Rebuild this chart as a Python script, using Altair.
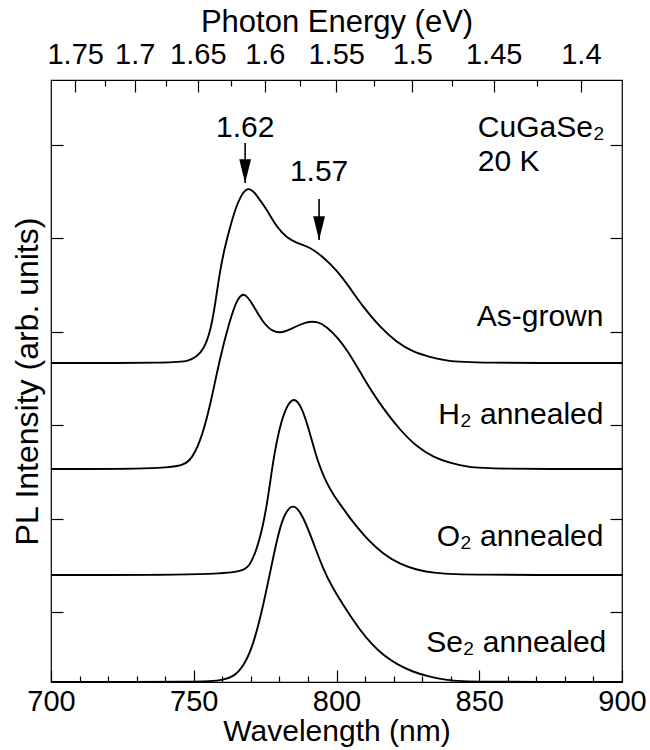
import altair as alt
import pandas as pd

# ---------------- data ----------------
SERIES = ["As-grown", "H2 annealed", "O2 annealed", "Se2 annealed"]
OFFSETS = [3.19, 2.13, 1.07, 0.0]

AS_WL = [700, 744, 748, 751, 753.5, 755.7, 757.5, 759.2, 761, 762.7, 765.5, 769, 772, 775.7,
         779, 782.7, 786, 790.7, 795.3, 800, 804, 809.3, 815.2, 821, 826.8, 832.7, 838.7, 847, 900]
AS_I = [0, 0, 0.02, 0.06, 0.14, 0.30, 0.58, 0.93, 1.17, 1.36, 1.63, 1.78, 1.68, 1.53,
        1.36, 1.25, 1.20, 1.16, 1.06, 0.93, 0.78, 0.56, 0.36, 0.21, 0.11, 0.06, 0.02, 0, 0]

H2_WL = [700, 744, 748.7, 752.2, 755.7, 759.2, 762.7, 765, 767.6, 770.8, 774.3, 777.8,
         780.9, 784.8, 789, 793.2, 796.7, 800.2, 804, 809.3, 812.5, 816, 822.2, 828.2,
         833.8, 839.8, 845.7, 854, 900]
H2_I = [0, 0, 0.07, 0.26, 0.62, 1.12, 1.49, 1.69, 1.78, 1.64, 1.46, 1.37,
        1.36, 1.41, 1.47, 1.48, 1.42, 1.32, 1.18, 0.92, 0.77, 0.62, 0.39, 0.22,
        0.12, 0.06, 0.02, 0, 0]

O2_WL = [700, 765, 769.7, 773.2, 775.7, 777.8, 780.2, 782.7, 785.1, 787.9, 790.7, 793.5,
         796.7, 799, 801.2, 804.7, 807.5, 810.7, 816.3, 822.2, 828.2, 834, 845, 900]
O2_I = [0, 0, 0.07, 0.35, 0.70, 1.15, 1.50, 1.70, 1.78, 1.68, 1.42, 1.12,
        0.91, 0.80, 0.71, 0.57, 0.47, 0.36, 0.21, 0.11, 0.05, 0.02, 0, 0]

SE_WL = [700, 755, 760, 763.8, 767.3, 770.8, 774.3, 776.7, 779.2, 781.3, 784.8, 788.3,
         791.8, 795.3, 798.8, 803.7, 808.2, 812, 816.3, 821, 826.8, 832.7, 838.7, 845, 900]
SE_I = [0, 0, 0.02, 0.05, 0.15, 0.36, 0.76, 1.09, 1.43, 1.66, 1.80, 1.66,
        1.40, 1.13, 0.93, 0.71, 0.52, 0.39, 0.27, 0.18, 0.10, 0.05, 0.02, 0, 0]

CURVE_LABELS = ["As-grown", "H\u2082 annealed", "O\u2082 annealed", "Se\u2082 annealed"]
CURVE_LABEL_X = [893.5, 893.5, 893.5, 894.5]
CURVE_LABEL_Y = [3.65, 2.67, 1.45, 0.39]

PEAK_LABELS = ["1.62", "1.57"]
PEAK_X = [768.0, 793.9]
PEAK_TEXT_Y = [5.54, 5.10]
ARROW_TOP = [5.39, 4.83]
ARROW_TIP = [4.99, 4.42]

SAMPLE_TEXT = ["CuGaSe\u2082", "20 K"]
SAMPLE_X = [849.5, 849.5]
SAMPLE_Y = [5.54, 5.20]

WL_MAJOR = [700, 750, 800, 850, 900]
WL_MINOR = [710, 720, 730, 740, 760, 770, 780, 790, 810, 820, 830, 840, 860, 870, 880, 890]
E_MAJOR = [1.75, 1.7, 1.65, 1.6, 1.55, 1.5, 1.45, 1.4]
E_MINOR = [1.725, 1.675, 1.625, 1.575, 1.525, 1.475, 1.425]
Y_TICKS = [0.70, 1.63, 2.57, 3.50, 4.44, 5.37]

HC = 1239.84  # eV*nm

# ---------------- tables ----------------
rows = []
for name, off, wl, it in zip(SERIES, OFFSETS, [AS_WL, H2_WL, O2_WL, SE_WL], [AS_I, H2_I, O2_I, SE_I]):
    for w, v in zip(wl, it):
        rows.append({"series": name, "wl": w, "y": v + off})
df = pd.DataFrame(rows)

lab_df = pd.DataFrame({"label": CURVE_LABELS, "x": CURVE_LABEL_X, "y": CURVE_LABEL_Y})
peak_df = pd.DataFrame({"label": PEAK_LABELS, "x": PEAK_X, "ty": PEAK_TEXT_Y,
                        "top": ARROW_TOP, "tip": ARROW_TIP})
samp_df = pd.DataFrame({"label": SAMPLE_TEXT, "x": SAMPLE_X, "y": SAMPLE_Y})

E_MAJOR_WL = [HC / e for e in E_MAJOR]
E_MINOR_WL = [HC / e for e in E_MINOR]

FONT = "Liberation Sans"
TXT = 30
W, H = 571, 602
xs = alt.Scale(domain=[700, 900], nice=False, zero=False)
ys = alt.Scale(domain=[0, 6.02], nice=False, zero=False)

common = dict(domain=False, grid=False, tickColor="black", tickWidth=1.2)

lines = alt.Chart(df).mark_line(color="black", strokeWidth=1.9, interpolate="basis", clip=True).encode(
    x=alt.X("wl:Q", scale=xs, axis=alt.Axis(
        orient="bottom", values=WL_MAJOR, offset=-12, tickSize=12, labelFlush=False,
        labelOverlap=False, labelFontSize=29, labelPadding=5, title="Wavelength (nm)",
        titleFontSize=30, titlePadding=0, **common)),
    y=alt.Y("y:Q", scale=ys, axis=alt.Axis(
        orient="left", values=Y_TICKS, offset=-12, tickSize=12, labels=False,
        title="PL Intensity (arb. units)", titleFontSize=32, titlePadding=6, **common)),
    detail="series:N",
)

labels = alt.Chart(lab_df).mark_text(align="right", baseline="middle", font=FONT, fontSize=TXT,
                                     color="black").encode(
    x=alt.X("x:Q", scale=xs, axis=alt.Axis(
        orient="bottom", values=WL_MINOR, offset=-6, tickSize=6, labels=False, title=None, **common)),
    y=alt.Y("y:Q", scale=ys, axis=alt.Axis(
        orient="right", values=Y_TICKS, offset=-12, tickSize=12, labels=False, title=None, **common)),
    text="label:N",
)

shafts = alt.Chart(peak_df).mark_rule(color="black", strokeWidth=1.6).encode(
    x=alt.X("x:Q", scale=xs, axis=alt.Axis(
        orient="top", values=E_MAJOR_WL, offset=-12, tickSize=12, labelFlush=False,
        labelOverlap=False, labelFontSize=29, labelPadding=11,
        labelExpr=f"format({HC}/datum.value, '.2~f')", title="Photon Energy (eV)",
        titleFontSize=31, titlePadding=2, **common)),
    y=alt.Y("top:Q", scale=ys, axis=None),
    y2="tip:Q",
)

heads = alt.Chart(peak_df).mark_point(shape="M-0.5,-2L0.5,-2L0,0Z", size=560, filled=True,
                                      color="black", opacity=1).encode(
    x=alt.X("x:Q", scale=xs, axis=alt.Axis(
        orient="top", values=E_MINOR_WL, offset=-6, tickSize=6, labels=False, title=None, **common)),
    y=alt.Y("tip:Q", scale=ys, axis=None),
)

peak_text = alt.Chart(peak_df).mark_text(align="center", baseline="middle", font=FONT, fontSize=TXT,
                                         color="black").encode(
    x=alt.X("x:Q", scale=xs, axis=None),
    y=alt.Y("ty:Q", scale=ys, axis=None),
    text="label:N",
)

samp_text = alt.Chart(samp_df).mark_text(align="left", baseline="middle", font=FONT, fontSize=TXT,
                                         color="black").encode(
    x=alt.X("x:Q", scale=xs, axis=None),
    y=alt.Y("y:Q", scale=ys, axis=None),
    text="label:N",
)

chart = alt.layer(lines, labels, shafts, heads, peak_text, samp_text).resolve_axis(
    x="independent", y="independent"
).properties(
    width=W, height=H,
    autosize=alt.AutoSizeParams(type="none"),
    padding={"left": 51, "top": 80, "right": 28, "bottom": 68},
    background="white",
).configure_view(
    stroke="black", strokeWidth=1.2
).configure_axis(
    labelFont=FONT, titleFont=FONT, labelColor="black", titleColor="black",
    titleFontWeight="normal"
)

chart.save("out.html", embed_options={"renderer": "svg", "actions": False})
